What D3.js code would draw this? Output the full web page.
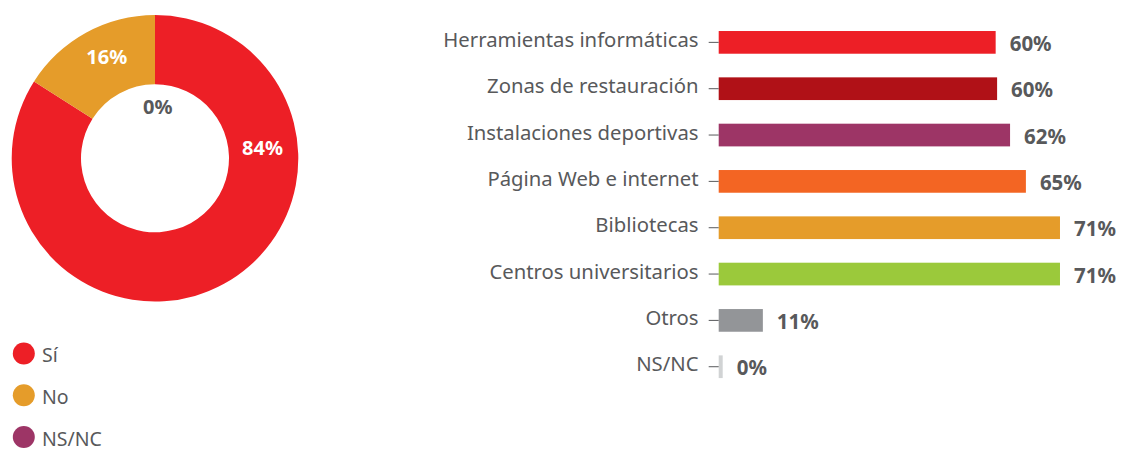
<!DOCTYPE html>
<html>
<head>
<meta charset="utf-8">
<script src="https://cdn.jsdelivr.net/npm/d3@7"></script>
<style>
  html, body { margin: 0; padding: 0; background: #ffffff; }
  svg { display: block; }
  text { font-family: "Noto Sans", "Open Sans", sans-serif; }
</style>
</head>
<body>
<svg id="chart" width="1121" height="452"></svg>
<script>
// ---- Donut data ----
const donutCategories = ["Sí", "No", "NS/NC"];
const donutValues = [84, 16, 0];
const donutColors = ["#ed1f26", "#e59c2a", "#9d3566"];

// ---- Bar data ----
const barCategories = [
  "Herramientas informáticas",
  "Zonas de restauración",
  "Instalaciones deportivas",
  "Página Web e internet",
  "Bibliotecas",
  "Centros universitarios",
  "Otros",
  "NS/NC"
];
// bar lengths (percent)
const barValues = [57.7, 58.0, 60.7, 64.0, 71.1, 71.1, 9.2, 0];
// labels printed next to the bars
const barLabels = ["60%", "60%", "62%", "65%", "71%", "71%", "11%", "0%"];
const barColors = ["#ed1f26", "#b01117", "#9d3566", "#f36523", "#e59c2a", "#9bc93b", "#939598", "#d1d3d4"];

const svg = d3.select("#chart");
const textColor = "#58595b";

// ================= DONUT =================
const cx = 155, cy = 158.3, rOuter = 143.3, rInner = 74;
const pie = d3.pie().sort(null).value(d => d)(donutValues);
const arc = d3.arc().innerRadius(rInner).outerRadius(rOuter);
const gD = svg.append("g").attr("transform", `translate(${cx},${cy})`);
gD.selectAll("path.slice").data(pie).join("path")
  .attr("class", "slice")
  .attr("d", arc)
  .attr("fill", (d, i) => donutColors[i]);

// label placement (polar, degrees clockwise from top) - layout only
const labelPolar = [
  { a: 84.5, r: 108, fill: "#ffffff" },
  { a: -25.5, r: 112, fill: "#ffffff" },
  { a: 3, r: 51.5, fill: "#58595b" }
];
gD.selectAll("text.dl").data(pie).join("text")
  .attr("class", "dl")
  .attr("x", (d, i) => labelPolar[i].r * Math.sin(labelPolar[i].a * Math.PI / 180))
  .attr("y", (d, i) => -labelPolar[i].r * Math.cos(labelPolar[i].a * Math.PI / 180) + 7)
  .attr("text-anchor", "middle")
  .attr("font-size", 20)
  .attr("font-weight", "bold")
  .attr("fill", (d, i) => labelPolar[i].fill)
  .text(d => d3.format(".0f")(d.data) + "%");

// legend
const legendY = d3.scalePoint().domain(donutCategories).range([353.5, 437]);
const gL = svg.append("g");
gL.selectAll("circle").data(donutCategories).join("circle")
  .attr("cx", 23.8)
  .attr("cy", d => legendY(d))
  .attr("r", 11)
  .attr("fill", (d, i) => donutColors[i]);
gL.selectAll("text").data(donutCategories).join("text")
  .attr("x", 42)
  .attr("y", d => legendY(d) + 8.5)
  .attr("font-size", 19.5)
  .attr("fill", textColor)
  .text(d => d);

// ================= BARS =================
const x0 = 718.7;
const x = d3.scaleLinear().domain([0, 100]).range([x0, x0 + 480]);
const y = d3.scaleBand().domain(barCategories).range([19.2, 389.9])
  .paddingInner(0.51).paddingOuter(0.255);

const gB = svg.append("g");
gB.selectAll("rect").data(barCategories).join("rect")
  .attr("x", x(0))
  .attr("y", d => y(d))
  .attr("height", y.bandwidth())
  .attr("width", (d, i) => Math.max(4, x(barValues[i]) - x(0)))
  .attr("fill", (d, i) => barColors[i]);

// axis ticks + labels
gB.selectAll("line.tick").data(barCategories).join("line")
  .attr("class", "tick")
  .attr("x1", x0 - 10).attr("x2", x0)
  .attr("y1", d => y(d) + y.bandwidth() / 2)
  .attr("y2", d => y(d) + y.bandwidth() / 2)
  .attr("stroke", textColor).attr("stroke-width", 1);

gB.selectAll("text.cat").data(barCategories).join("text")
  .attr("class", "cat")
  .attr("x", 698.5)
  .attr("y", d => y(d) + y.bandwidth() / 2 + 4.5)
  .attr("text-anchor", "end")
  .attr("font-size", 20.3)
  .attr("fill", textColor)
  .text(d => d);

gB.selectAll("text.val").data(barCategories).join("text")
  .attr("class", "val")
  .attr("x", (d, i) => x(0) + Math.max(4, x(barValues[i]) - x(0)) + 14)
  .attr("y", d => y(d) + y.bandwidth() / 2 + 8.5)
  .attr("font-size", 20.5)
  .attr("font-weight", "bold")
  .attr("fill", textColor)
  .text((d, i) => barLabels[i]);
</script>
</body>
</html>
